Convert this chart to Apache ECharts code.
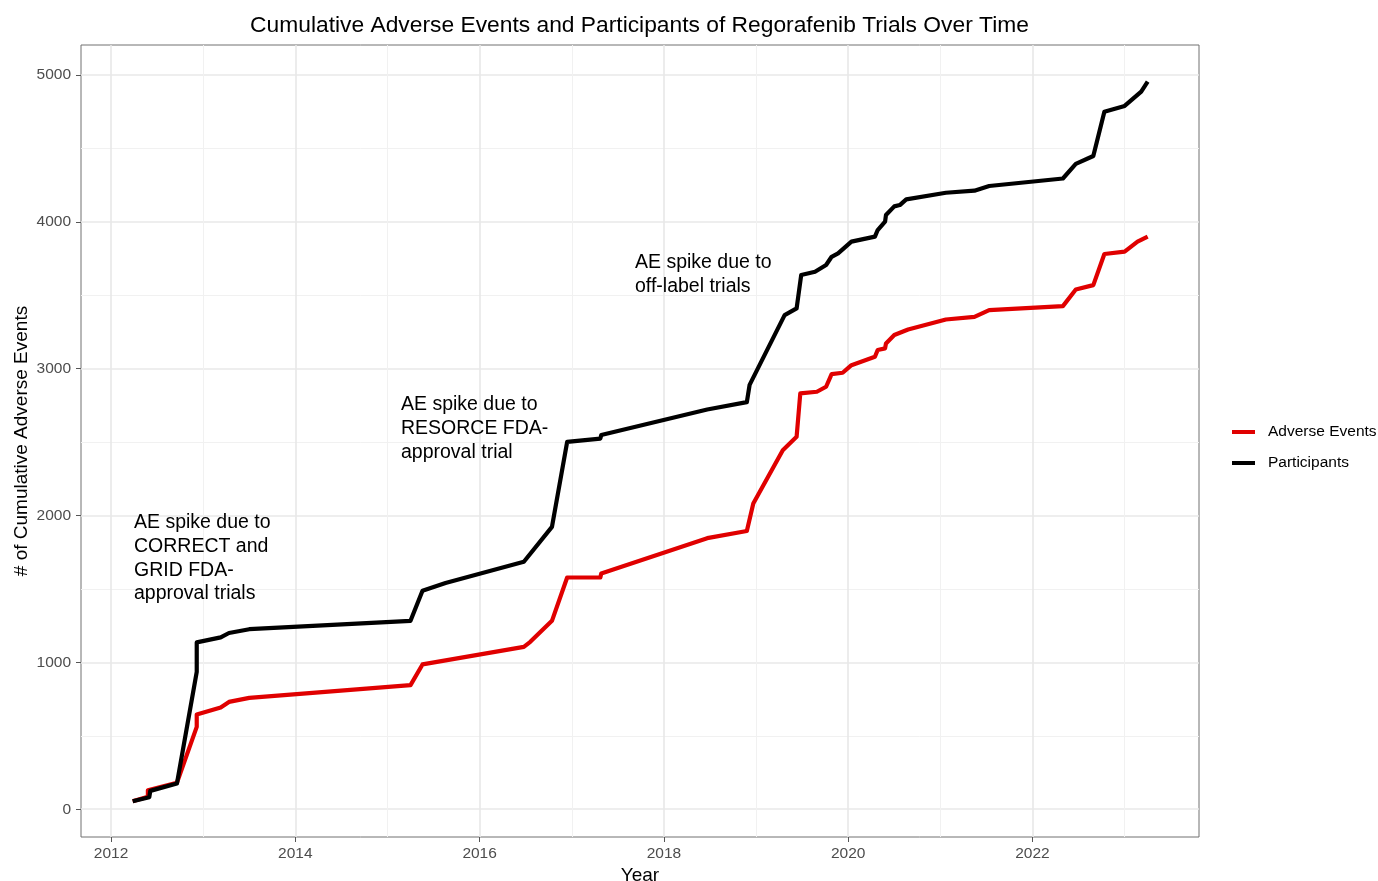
<!DOCTYPE html>
<html>
<head>
<meta charset="utf-8">
<script src="https://cdn.jsdelivr.net/npm/echarts@6/dist/echarts.min.js"></script>
<style>html,body{margin:0;padding:0;background:#fff}#c{width:1378px;height:881px}</style>
</head>
<body>
<div id="c"></div>
<script>
// ---- data ----
const aeYears = [2012.235, 2012.40, 2012.40, 2012.715, 2012.93, 2012.93, 2013.19, 2013.28, 2013.50, 2015.25, 2015.38, 2016.48, 2016.55, 2016.785, 2016.95, 2017.31, 2017.32, 2018.47, 2018.90, 2018.97, 2019.29, 2019.44, 2019.48, 2019.66, 2019.76, 2019.82, 2019.94, 2020.035, 2020.29, 2020.32, 2020.40, 2020.41, 2020.50, 2020.65, 2021.06, 2021.37, 2021.53, 2022.33, 2022.47, 2022.66, 2022.78, 2023.00, 2023.14, 2023.25];
const aeValues = [54, 85, 129, 180, 561, 645, 693, 731, 758, 845, 986, 1106, 1140, 1283, 1578, 1578, 1605, 1846, 1895, 2082, 2445, 2536, 2832, 2843, 2877, 2963, 2972, 3024, 3081, 3127, 3138, 3172, 3229, 3267, 3335, 3353, 3399, 3426, 3539, 3569, 3781, 3797, 3865, 3899];
const partYears = [2012.235, 2012.415, 2012.426, 2012.715, 2012.93, 2012.93, 2013.19, 2013.28, 2013.50, 2015.25, 2015.38, 2015.63, 2016.48, 2016.785, 2016.95, 2017.31, 2017.32, 2018.47, 2018.90, 2018.93, 2019.31, 2019.44, 2019.49, 2019.64, 2019.76, 2019.82, 2019.89, 2020.035, 2020.29, 2020.32, 2020.40, 2020.41, 2020.50, 2020.56, 2020.63, 2021.06, 2021.37, 2021.53, 2022.33, 2022.47, 2022.66, 2022.78, 2023.00, 2023.18, 2023.25];
const partValues = [54, 82, 125, 175, 935, 1136, 1170, 1200, 1226, 1283, 1488, 1540, 1685, 1923, 2502, 2524, 2548, 2722, 2772, 2890, 3365, 3410, 3638, 3660, 3706, 3762, 3785, 3865, 3899, 3944, 4001, 4046, 4105, 4114, 4153, 4198, 4212, 4244, 4295, 4394, 4448, 4750, 4789, 4886, 4954];
const xTicks = [2012, 2014, 2016, 2018, 2020, 2022];
const xMinor = [2013, 2015, 2017, 2019, 2021, 2023];
const yTicks = [0, 1000, 2000, 3000, 4000, 5000];
const yMinor = [500, 1500, 2500, 3500, 4500];
const seriesNames = ['Adverse Events', 'Participants'];
const notes = [
  'AE spike due to\nCORRECT and\nGRID FDA-\napproval trials',
  'AE spike due to\nRESORCE FDA-\napproval trial',
  'AE spike due to\noff-label trials'
];

const FONT = '"Liberation Sans", Arial, Helvetica, sans-serif';
const zip = (xs, ys) => xs.map((x, i) => [x, ys[i]]);
const chart = echarts.init(document.getElementById('c'));
const XMIN = 2011.674, XMAX = 2023.807, YMIN = -189, YMAX = 5204;

const majorLine = { show: true, lineStyle: { color: '#e8e8e8', width: 1.6 } };
const minorLine = { show: true, lineStyle: { color: '#f1f1f1', width: 1 } };
const tickStyle = { color: '#555', width: 1 };

chart.setOption({
  animation: false,
  backgroundColor: '#fff',
  title: {
    text: 'Cumulative Adverse Events and Participants of Regorafenib Trials Over Time',
    left: 634.5, top: 9, textAlign: 'center',
    textStyle: { fontFamily: FONT, fontSize: 22.8, fontWeight: 'normal', color: '#000' }
  },
  grid: { left: 81, right: 179, top: 45, bottom: 44, show: true, borderColor: '#707070', borderWidth: 1, backgroundColor: 'transparent', containLabel: false, outerBoundsMode: 'none' },
  legend: {
    orient: 'vertical', left: 1227, top: 419, itemWidth: 23, itemHeight: 4, itemGap: 15,
    icon: 'rect', data: seriesNames,
    textStyle: { fontFamily: FONT, fontSize: 15.5, color: '#000', padding: [0, 0, 0, 8] }
  },
  xAxis: [{
    type: 'value', min: XMIN, max: XMAX,
    name: 'Year', nameLocation: 'middle', nameGap: 29.5, nameMoveOverlap: false,
    nameTextStyle: { fontFamily: FONT, fontSize: 19, color: '#000' },
    axisLine: { show: false, onZero: false },
    axisTick: { show: true, length: 5, customValues: xTicks, lineStyle: tickStyle },
    axisLabel: { customValues: xTicks, margin: 9, fontFamily: FONT, fontSize: 15.5, color: '#4d4d4d', formatter: v => String(v) },
    splitLine: majorLine
  }, {
    type: 'value', min: XMIN, max: XMAX, position: 'top',
    axisLine: { show: false, onZero: false }, axisLabel: { show: false },
    axisTick: { show: false, customValues: xMinor },
    splitLine: minorLine
  }],
  yAxis: [{
    type: 'value', min: YMIN, max: YMAX,
    name: '# of Cumulative Adverse Events', nameLocation: 'middle', nameGap: 49.5, nameRotate: 90, nameMoveOverlap: false,
    nameTextStyle: { fontFamily: FONT, fontSize: 19, color: '#000' },
    axisLine: { show: false, onZero: false },
    axisTick: { show: true, length: 5, customValues: yTicks, lineStyle: tickStyle },
    axisLabel: { customValues: yTicks, margin: 10, fontFamily: FONT, fontSize: 15.5, color: '#4d4d4d', formatter: v => String(v) },
    splitLine: majorLine
  }, {
    type: 'value', min: YMIN, max: YMAX, position: 'right',
    axisLine: { show: false, onZero: false }, axisLabel: { show: false },
    axisTick: { show: false, customValues: yMinor },
    splitLine: minorLine
  }],
  graphic: [
    { type: 'text', z: 100, left: 134, top: 511, style: { text: notes[0], font: '19.5px ' + FONT, fill: '#000', lineHeight: 23.7 } },
    { type: 'text', z: 100, left: 401, top: 393, style: { text: notes[1], font: '19.5px ' + FONT, fill: '#000', lineHeight: 23.7 } },
    { type: 'text', z: 100, left: 635, top: 251, style: { text: notes[2], font: '19.5px ' + FONT, fill: '#000', lineHeight: 23.7 } }
  ],
  series: [{
    name: seriesNames[0], type: 'line', xAxisIndex: 0, yAxisIndex: 0,
    data: zip(aeYears, aeValues), showSymbol: false, symbol: 'none',
    itemStyle: { color: '#e00000' },
    lineStyle: { color: '#e00000', width: 4.2, cap: 'butt', join: 'round' }
  }, {
    name: seriesNames[1], type: 'line', xAxisIndex: 0, yAxisIndex: 0,
    data: zip(partYears, partValues), showSymbol: false, symbol: 'none',
    itemStyle: { color: '#000' },
    lineStyle: { color: '#000', width: 4.2, cap: 'butt', join: 'round' }
  }]
});
</script>
</body>
</html>
